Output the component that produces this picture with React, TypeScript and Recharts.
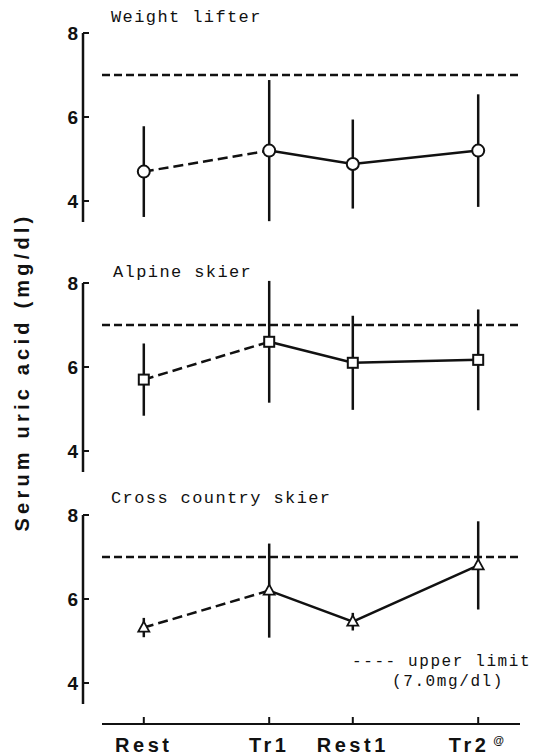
import { ErrorBar, Line, LineChart, ReferenceLine, XAxis, YAxis } from 'recharts'

// time points (x positions) and their labels
const timePoints = [0, 3, 5, 8]
const tickLabels = ['Rest', 'Tr1', 'Rest1', 'Tr2']
const tickNotes = ['', '', '', '@']
const yTicks = [4, 6, 8]
const upperLimit = 7.0

// serum uric acid, mean and SD (mg/dl)
const weightLifterMean = [4.7, 5.2, 4.88, 5.2]
const weightLifterSd = [1.08, 1.68, 1.06, 1.34]
const alpineMean = [5.7, 6.6, 6.1, 6.17]
const alpineSd = [0.86, 1.45, 1.12, 1.2]
const crossCountryMean = [5.32, 6.2, 5.46, 6.8]
const crossCountrySd = [0.23, 1.12, 0.21, 1.05]

const INK = '#111'

const buildRows = (means: number[], sds: number[]) =>
  timePoints.map((x, i) => ({
    x,
    mean: means[i],
    sd: sds[i],
    pre: i <= 1 ? means[i] : null,
    post: i >= 1 ? means[i] : null,
  }))

const Circle = ({ cx, cy }: any) => (
  <circle cx={cx} cy={cy} r={6} fill="#fff" stroke={INK} strokeWidth={2} />
)
const Square = ({ cx, cy }: any) => (
  <rect x={cx - 5} y={cy - 5} width={10} height={10} fill="#fff" stroke={INK} strokeWidth={2} />
)
const Triangle = ({ cx, cy }: any) => (
  <path d={`M${cx},${cy - 6} L${cx + 5.5},${cy + 4} L${cx - 5.5},${cy + 4} Z`} fill="#fff" stroke={INK} strokeWidth={1.8} />
)

// x tick: short mark pointing up into the plot, label below
const XTick = ({ x, y, payload }: any) => {
  const i = timePoints.indexOf(payload.value)
  return (
    <g>
      <line x1={x} x2={x} y1={y} y2={y - 7} stroke={INK} strokeWidth={2} />
      <text x={x} y={y + 21} dy="0.35em" textAnchor="middle" fill={INK}
        style={{ fontFamily: 'Liberation Sans', fontWeight: 700, fontSize: 20, letterSpacing: 3.5 }}>
        {tickLabels[i]}
        {tickNotes[i] && <tspan dx={4} dy={-8} fontSize={11}>{tickNotes[i]}</tspan>}
      </text>
    </g>
  )
}

// y tick: short mark pointing right into the plot, label left of the axis
const YTick = ({ x, y, payload }: any) => (
  <g>
    <line x1={x + 5} x2={x + 11} y1={y} y2={y} stroke={INK} strokeWidth={2} />
    <text x={x} y={y} dy="0.35em" textAnchor="end" fill={INK}
      style={{ fontFamily: 'Liberation Sans', fontWeight: 700, fontSize: 19 }}>
      {payload.value}
    </text>
  </g>
)

interface PanelProps {
  top: number
  height: number
  means: number[]
  sds: number[]
  Marker: any
  bottomAxis?: boolean
}

function Panel({ top, height, means, sds, Marker, bottomAxis }: PanelProps) {
  const rows = buildRows(means, sds)
  return (
    <div style={{ position: 'absolute', left: 0, top }}>
      <LineChart width={543} height={height} data={rows}
        margin={{ top: 33, right: 23, left: 43, bottom: bottomAxis ? 0 : 2 }}>
        <XAxis
          dataKey="x"
          type="number"
          domain={[-1, 9]}
          ticks={timePoints}
          allowDataOverflow
          padding={{ left: 19, right: 0 }}
          hide={!bottomAxis}
          height={31}
          axisLine={{ stroke: INK, strokeWidth: 2, strokeDasharray: '0 19 418 40' }}
          tickLine={false}
          tickSize={0}
          tickMargin={0}
          tick={<XTick />}
        />
        <YAxis
          type="number"
          domain={[3.5, 8]}
          ticks={yTicks}
          allowDataOverflow
          width={40}
          padding={{ top: 0, bottom: bottomAxis ? 20 : 0 }}
          axisLine={{ stroke: INK, strokeWidth: 2.5, strokeDasharray: bottomAxis ? '189 60' : undefined }}
          tickLine={false}
          tickSize={0}
          tickMargin={5}
          tick={<YTick />}
        />
        <ReferenceLine
          segment={[{ x: -1, y: upperLimit }, { x: 9, y: upperLimit }]}
          stroke={INK}
          strokeWidth={2.5}
          strokeDasharray="8 4"
        />
        <Line dataKey="pre" stroke={INK} strokeWidth={2.5} strokeDasharray="10 5" dot={false} isAnimationActive={false} />
        <Line dataKey="post" stroke={INK} strokeWidth={2.5} dot={false} isAnimationActive={false} />
        <Line
          dataKey="mean"
          stroke="none"
          isAnimationActive={false}
          dot={(p: any) => <Marker key={p.index} cx={p.cx} cy={p.cy} />}
          activeDot={false}
        >
          <ErrorBar dataKey="sd" width={0} stroke={INK} strokeWidth={2.5} direction="y" />
        </Line>
      </LineChart>
    </div>
  )
}

const titleStyle: React.CSSProperties = {
  position: 'absolute',
  fontFamily: 'Liberation Mono',
  fontSize: 17,
  letterSpacing: 1.4,
  color: INK,
  whiteSpace: 'nowrap',
  lineHeight: '20px',
}

export default function App() {
  return (
    <div style={{ position: 'absolute', left: 0, top: 0, width: 543, height: 755, background: '#fff' }}>
      <Panel top={0} height={224} means={weightLifterMean} sds={weightLifterSd} Marker={Circle} />
      <Panel top={250} height={224} means={alpineMean} sds={alpineSd} Marker={Square} />
      <Panel top={482} height={273} means={crossCountryMean} sds={crossCountrySd} Marker={Triangle} bottomAxis />

      <div style={{ ...titleStyle, left: 111, top: 8 }}>Weight lifter</div>
      <div style={{ ...titleStyle, left: 113, top: 263 }}>Alpine skier</div>
      <div style={{ ...titleStyle, left: 111, top: 489 }}>Cross country skier</div>

      <div style={{ ...titleStyle, left: 352, top: 652, fontSize: 16, letterSpacing: 1.6 }}>---- upper limit</div>
      <div style={{ ...titleStyle, left: 392, top: 672, fontSize: 16, letterSpacing: 1.6 }}>(7.0mg/dl)</div>

      <div
        style={{
          position: 'absolute',
          left: 22,
          top: 372,
          transform: 'translate(-50%, -50%) rotate(-90deg)',
          fontFamily: 'Liberation Sans',
          fontWeight: 700,
          fontSize: 20,
          letterSpacing: 4.2,
          color: INK,
          whiteSpace: 'nowrap',
        }}
      >
        Serum uric acid (mg/dl)
      </div>
    </div>
  )
}
